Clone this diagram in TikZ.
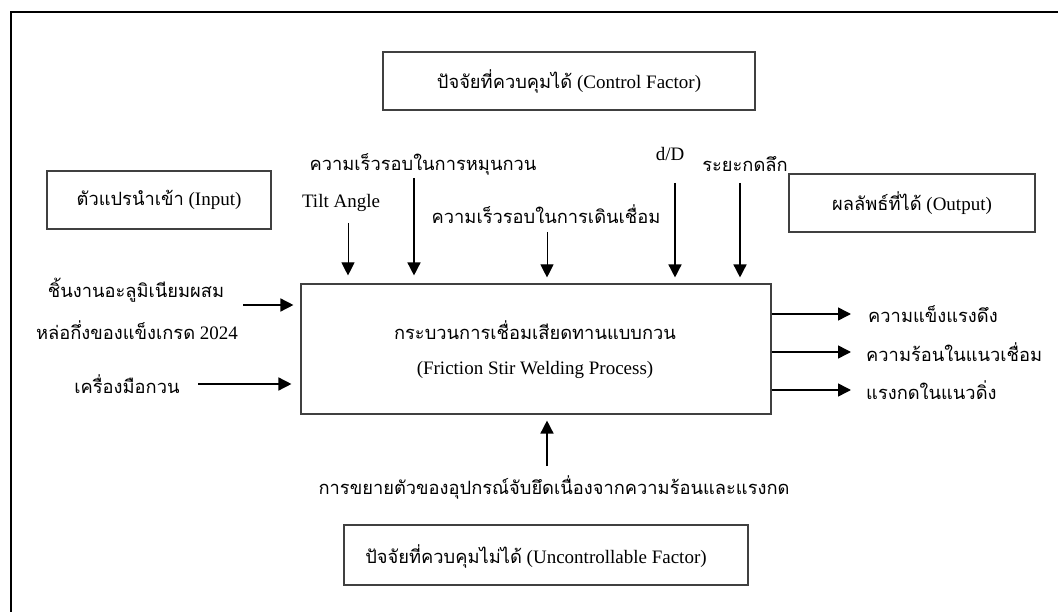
\documentclass[tikz,border=0pt]{standalone}
\usepackage{fontspec}
\setmainfont{Liberation Serif}
\newfontfamily\thaifont[Script=Thai]{Loma}
\usetikzlibrary{arrows.meta}
\newcommand{\tth}[1]{{\thaifont\fontsize{18.3}{21}\selectfont #1}}
\begin{document}
\begin{tikzpicture}[x=1pt,y=-1pt,
  box/.style={draw=black!75, line width=1.1pt, minimum height=58pt, inner sep=0pt, font=\fontsize{19}{22}\selectfont},
  lbl/.style={inner sep=0pt, font=\fontsize{19}{22}\selectfont},
  arr/.style={line width=1.5pt, -{Triangle[length=13pt,width=13pt]}},
  thinarr/.style={line width=0.9pt, -{Triangle[length=13pt,width=13pt]}}]
\useasboundingbox (0,0) rectangle (1058,612);
% outer frame
\coordinate (fTL) at (11,12);
\coordinate (fBL) at (11,612);
\coordinate (fTR) at (1058,12);
\draw[line width=2pt] (fBL) -- (fTL) -- (fTR);
% boxes
\node[box, minimum width=372pt] (ctrl) at (569,81) {\tth{ปัจจัยที่ควบคุมได้} (Control Factor)};
\node[box, minimum width=224pt] (inp) at (159,200) {\tth{ตัวแปรนำเข้า} (Input)};
\node[box, minimum width=246pt] (out) at (912,203) {\tth{ผลลัพธ์ที่ได้} (Output)};
\node[box, minimum width=470pt, minimum height=130pt] (proc) at (536,349) {};
\node[lbl] (proc1) at (535,330) {\tth{กระบวนการเชื่อมเสียดทานแบบกวน}};
\node[lbl] (proc2) at (535,370) {(Friction Stir Welding Process)};
\node[box, minimum width=404pt, minimum height=60pt] (unc) at (546,555) {};
\node[lbl] (unct) at (536,556) {\tth{ปัจจัยที่ควบคุมไม่ได้} (Uncontrollable Factor)};
% control labels
\node[lbl] (lrot) at (423,164) {\tth{ความเร็วรอบในการหมุนกวน}};
\node[lbl] (ltilt) at (341,203) {Tilt Angle};
\node[lbl] (lweld) at (546,214) {\tth{ความเร็วรอบในการเดินเชื่อม}};
\node[lbl] (ldd) at (670,154) {d/D};
\node[lbl] (ldep) at (745,164) {\tth{ระยะกดลึก}};
\coordinate (aTilt) at (348,223);
\coordinate (aRot) at (414,178);
\coordinate (aWeld) at (547,232);
\coordinate (aDD) at (675,183);
\coordinate (aDep) at (740,183);
\draw[thinarr, shorten >=8pt] (aTilt) -- (aTilt |- proc.north);
\draw[arr, shorten >=8pt] (aRot) -- (aRot |- proc.north);
\draw[thinarr, shorten >=6pt] (aWeld) -- (aWeld |- proc.north);
\draw[arr, shorten >=6pt] (aDD) -- (aDD |- proc.north);
\draw[arr, shorten >=6pt] (aDep) -- (aDep |- proc.north);
% inputs
\node[lbl] (in1) at (136,290) {\tth{ชิ้นงานอะลูมิเนียมผสม}};
\node[lbl] (in2) at (137,330) {\tth{หล่อกึ่งของแข็งเกรด} 2024};
\node[lbl] (in3) at (127,384) {\tth{เครื่องมือกวน}};
\coordinate (aIn1) at (243,305);
\coordinate (aIn2) at (198,384);
\draw[arr, shorten >=7pt] (aIn1) -- (aIn1 -| proc.west);
\draw[arr, shorten >=9pt] (aIn2) -- (aIn2 -| proc.west);
% outputs
\node[lbl, anchor=west] (o1) at (868,314) {\tth{ความแข็งแรงดึง}};
\node[lbl, anchor=west] (o2) at (866,352) {\tth{ความร้อนในแนวเชื่อม}};
\node[lbl, anchor=west] (o3) at (866,390) {\tth{แรงกดในแนวดิ่ง}};
\coordinate (e1) at (851,314);
\coordinate (e2) at (851,352);
\coordinate (e3) at (851,390);
\draw[arr] (e1 -| proc.east) -- (e1);
\draw[arr] (e2 -| proc.east) -- (e2);
\draw[arr] (e3 -| proc.east) -- (e3);
% uncontrollable
\node[lbl] (lexp) at (554,487) {\tth{การขยายตัวของอุปกรณ์จับยึดเนื่องจากความร้อนและแรงกด}};
\coordinate (aExp) at (547,466);
\draw[arr, shorten >=6pt] (aExp) -- (aExp |- proc.south);
\end{tikzpicture}
\end{document}
